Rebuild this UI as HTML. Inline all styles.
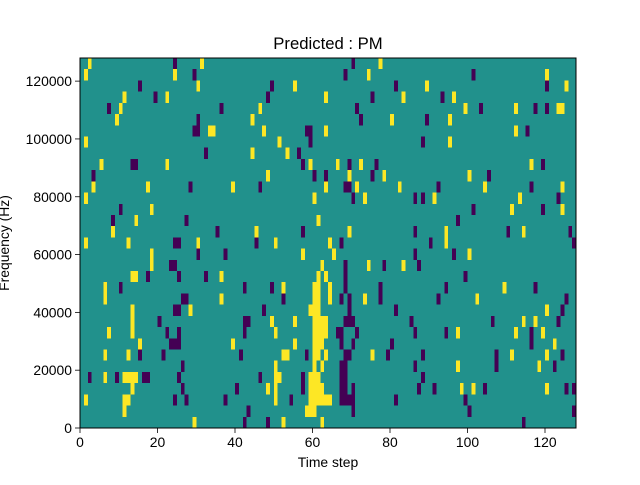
<!DOCTYPE html>
<html><head><meta charset="utf-8"><style>
html,body{margin:0;padding:0;background:#fff;}
svg text{font-family:"Liberation Sans","DejaVu Sans",sans-serif;fill:#000;}
</style></head><body>
<svg id="s" width="640" height="480" xmlns="http://www.w3.org/2000/svg">
<rect width="640" height="480" fill="#fff"/>
<svg id="m" x="80" y="58" width="496" height="370" viewBox="0 0 128 33" preserveAspectRatio="none" shape-rendering="crispEdges">
<rect width="128" height="33" fill="#21918c"/>
</svg>
<rect x="80" y="58" width="496" height="370" fill="none" stroke="#000" stroke-width="1"/>
<g id="ax" stroke="#000" stroke-width="0.8"></g>
<g id="lbl" font-size="13.9"></g>
<text x="328" y="49" font-size="16.7" text-anchor="middle">Predicted : PM</text>
<text x="328" y="467" font-size="13.9" text-anchor="middle">Time step</text>
<text transform="translate(9,243) rotate(-90)" font-size="13.9" text-anchor="middle">Frequency (Hz)</text>
</svg>
<script>
var D=[
["2,31,77","24,70"],
["1,24,74,120","29,68,101"],
["30,55,89,125","15,49,81,120"],
["11,22,63,83,96","19,48,75,93"],
["10,46,99,112,123,124","7,36,71,103,117,120"],
["9,44,80,95","30,72,89"],
["33,34,47,63,112","29,30,58,59,115"],
["1,51,95","59,88"],
["44,53","32,56"],
["5,22,59,66,72,116","13,14,57,69,76,119"],
["48,69,78,100","3,60,63,75,105"],
["3,17,39,63,71,82,104,124","28,46,68,69,92,116"],
["1,60,73,91,113","70,86,88,123"],
["18,111,124","10,101,119"],
["14,61","8,27,97"],
["8,45,69,94,114","35,57,86,110,126"],
["1,12,30,50,64,94","24,25,45,67,90,127"],
["18,57,65,100","30,37,86,96"],
["18,62,74,83","23,24,68,78,87"],
["13,14,36,61,63","17,25,32,68,99"],
["6,52,60,61,64,109","10,42,49,68,77,94,117"],
["6,36,60,61,64,73,102","26,27,52,67,69,77,92,125"],
["13,28,59,60,61,120","24,25,47,69,81,124"],
["13,49,55,60,61,62,63,114,117","20,42,43,68,69,70,85,106,123"],
["7,13,50,60,61,62,63,97,112,119","22,25,42,66,67,71,86,94,116"],
["15,39,55,60,61,62,122","23,24,25,67,70,80,116"],
["6,12,52,53,60,61,63,75,111,120","15,21,41,58,68,69,79,88,107,124"],
["50,60,62,97,118","26,67,68,86,107,122"],
["6,11,12,13,14,50,51,59,60,61","2,9,16,17,25,46,57,67,68,88"],
["13,48,50,59,60,61,62,98,101,120","26,40,57,67,68,70,87,91,104,125,127"],
["1,11,12,50,59,60,61,62,63,64","24,27,37,54,67,68,69,70,81,99"],
["11,58,59,60","43,70,100,127"],
["29,52,62","42,48,114"]];
var NS="http://www.w3.org/2000/svg",m=document.getElementById("m");
function r(x,y,c){var e=document.createElementNS(NS,"rect");e.setAttribute("x",x);e.setAttribute("y",y);e.setAttribute("width",1);e.setAttribute("height",1);e.setAttribute("fill",c);m.appendChild(e);}
D.forEach(function(d,i){d[0].split(",").forEach(function(c){r(+c,i,"#fde725");});d[1].split(",").forEach(function(c){r(+c,i,"#440154");});});
var ax=document.getElementById("ax"),lb=document.getElementById("lbl");
function l(x1,y1,x2,y2){var e=document.createElementNS(NS,"line");e.setAttribute("x1",x1);e.setAttribute("y1",y1);e.setAttribute("x2",x2);e.setAttribute("y2",y2);ax.appendChild(e);}
function t(x,y,s,a){var e=document.createElementNS(NS,"text");e.setAttribute("x",x);e.setAttribute("y",y);e.setAttribute("text-anchor",a);e.textContent=s;lb.appendChild(e);}
for(var v=0;v<=120;v+=20){var x=80+v*3.875;l(x,428,x,433);t(x,447,""+v,"middle");}
for(var v=0;v<=120000;v+=20000){var y=428-v/128000*370;l(80,y,75,y);t(72,y+5,""+v,"end");}
</script>
</body></html>
